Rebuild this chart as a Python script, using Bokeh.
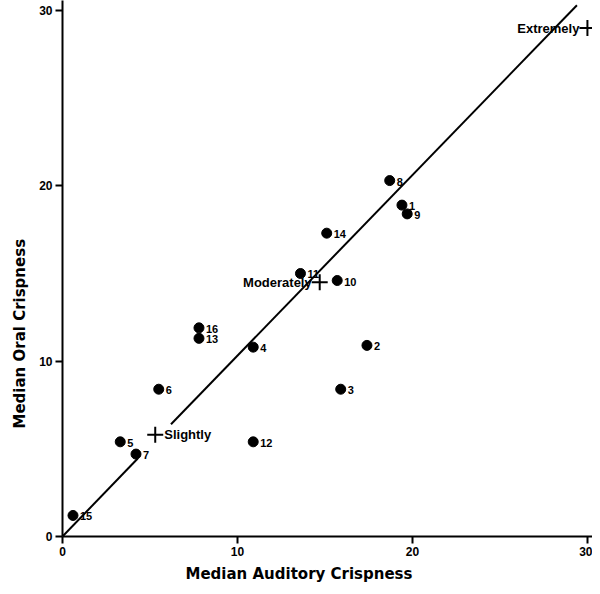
from bokeh.plotting import figure
from bokeh.models import ColumnDataSource, Range1d, FixedTicker, Title
from bokeh.core.properties import value
from bokeh.embed import file_html
from bokeh.resources import INLINE

# Data
sample_ids = ["1", "2", "3", "4", "5", "6", "7", "8", "9", "10", "11", "12", "13", "14", "15", "16"]
auditory = [19.4, 17.4, 15.9, 10.9, 3.3, 5.5, 4.2, 18.7, 19.7, 15.7, 13.6, 10.9, 7.8, 15.1, 0.6, 7.8]
oral = [18.9, 10.9, 8.4, 10.8, 5.4, 8.4, 4.7, 20.3, 18.4, 14.6, 15.0, 5.4, 11.3, 17.3, 1.2, 11.9]

ref_names = ["Slightly", "Moderately", "Extremely"]
ref_auditory = [5.3, 14.7, 30.0]
ref_oral = [5.8, 14.5, 29.0]

fit_x = [[0, 4.3], [6.2, 29.4]]
fit_y = [[0, 4.45], [6.4, 30.3]]

ticks = [0, 10, 20, 30]

FONT = "Liberation Sans"
TITLE_FONT = "DejaVu Sans"
W, H = 592, 586

p = figure(width=W, height=H, output_backend="svg", toolbar_location=None,
           x_range=Range1d(0, 30.29), y_range=Range1d(0, 30.57),
           min_border_left=62, min_border_right=0, min_border_top=0, min_border_bottom=50)
p.outline_line_color = None
p.xgrid.visible = False
p.ygrid.visible = False
p.background_fill_color = "white"

for ax in (p.xaxis[0], p.yaxis[0]):
    ax.ticker = FixedTicker(ticks=ticks)
    ax.axis_line_width = 2
    ax.axis_line_color = "black"
    ax.major_tick_line_width = 2
    ax.major_tick_line_color = "black"
    ax.major_tick_out = 7
    ax.major_tick_in = 0
    ax.minor_tick_line_color = None
    ax.major_label_text_font = FONT
    ax.major_label_text_font_style = "bold"
    ax.major_label_text_font_size = "12px"
    ax.major_label_text_color = "black"
    ax.major_label_standoff = 3

p.multi_line(xs=fit_x, ys=fit_y, line_color="black", line_width=2)

src = ColumnDataSource(dict(x=auditory, y=oral, t=sample_ids))
p.scatter("x", "y", source=src, size=10, fill_color="black", line_color="black")
p.text("x", "y", text="t", source=src, x_offset=7, y_offset=1,
       text_font=value(FONT), text_font_style="bold", text_font_size="11px",
       text_baseline="middle", text_align="left", text_color="black")

rsrc = ColumnDataSource(dict(x=ref_auditory, y=ref_oral, t=ref_names))
p.scatter("x", "y", source=rsrc, marker="cross", size=16, line_width=2, line_color="black")

# reference labels: Slightly to the right, others to the left
p.text(x=[ref_auditory[0]], y=[ref_oral[0]], text=[ref_names[0]], x_offset=9, y_offset=0,
       text_font=value(FONT), text_font_style="bold", text_font_size="13px",
       text_baseline="middle", text_align="left", text_color="black")
p.text(x=ref_auditory[1:], y=ref_oral[1:], text=ref_names[1:], x_offset=-8, y_offset=0,
       text_font=value(FONT), text_font_style="bold", text_font_size="13px",
       text_baseline="middle", text_align="right", text_color="black")

# axis titles
xtitle = Title(text="Median Auditory Crispness", align="left", offset=123,
               text_font=TITLE_FONT, text_font_style="bold", text_font_size="15px",
               text_color="black", standoff=8)
ytitle = Title(text="Median Oral Crispness", align="left", offset=108,
               text_font=TITLE_FONT, text_font_style="bold", text_font_size="15px",
               text_color="black", standoff=15)
p.add_layout(xtitle, "below")
p.add_layout(ytitle, "left")

open("out.html", "w").write(file_html(p, INLINE))
